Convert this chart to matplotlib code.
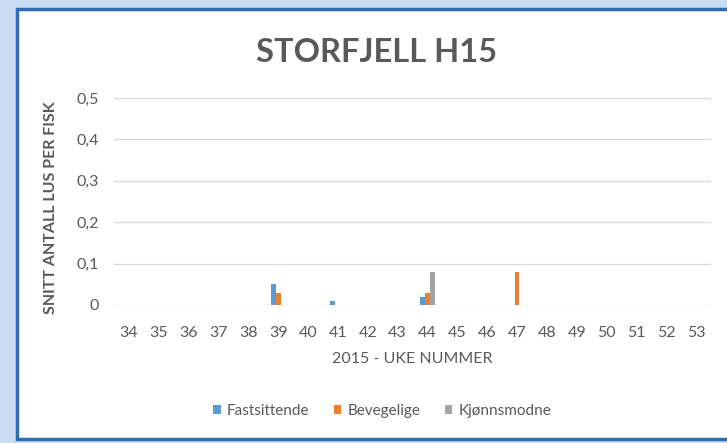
import matplotlib
matplotlib.use("Agg")
import matplotlib.pyplot as plt
import numpy as np
from matplotlib.patches import Rectangle

weeks = [str(w) for w in range(34, 54)]
fastsittende = [0, 0, 0, 0, 0, 0.05, 0, 0.01, 0, 0, 0.02, 0, 0, 0, 0, 0, 0, 0, 0, 0]
bevegelige = [0, 0, 0, 0, 0, 0.03, 0, 0, 0, 0, 0.03, 0, 0, 0.08, 0, 0, 0, 0, 0, 0]
kjonnsmodne = [0, 0, 0, 0, 0, 0, 0, 0, 0, 0, 0.08, 0, 0, 0, 0, 0, 0, 0, 0, 0]
yticks = [0, 0.1, 0.2, 0.3, 0.4, 0.5]
ytick_labels = ["0", "0,1", "0,2", "0,3", "0,4", "0,5"]

plt.rcParams['font.family'] = ['Lato', 'DejaVu Sans']
txt = '#595959'

fig = plt.figure(figsize=(7.27, 4.43), dpi=100)
fig.patch.set_facecolor('#c9dcf1')
W, H = 727, 443
fig.patches.append(Rectangle((17 / W, 1 - 439 / H), 1.0, (439 - 9) / H,
                             transform=fig.transFigure, facecolor='white',
                             edgecolor='#2e6db4', linewidth=2.5, zorder=0))

ax = fig.add_axes([114 / W, 1 - 305 / H, (711 - 114) / W, (305 - 98) / H])
ax.set_facecolor('none')
ax.set_zorder(2)

x = np.arange(len(weeks))
bw = 0.165
ax.bar(x - bw, fastsittende, bw, color='#5b9bd5', label='Fastsittende', zorder=3)
ax.bar(x, bevegelige, bw, color='#ed7d31', label='Bevegelige', zorder=3)
ax.bar(x + bw, kjonnsmodne, bw, color='#a5a5a5', label='Kjønnsmodne', zorder=3)

ax.set_xlim(-0.5, len(weeks) - 0.5)
ax.set_ylim(0, 0.5)
ax.set_xticks(x)
ax.set_xticklabels(weeks)
ax.set_yticks(yticks)
ax.set_yticklabels(ytick_labels)
ax.tick_params(length=0, labelsize=11.5, colors=txt)
ax.tick_params(axis='x', pad=15)
ax.tick_params(axis='y', pad=11)
ax.grid(axis='y', color='#d9d9d9', linewidth=1, zorder=0)
for s in ax.spines.values():
    s.set_visible(False)

ax.set_xlabel('2015 - UKE NUMMER', fontsize=11.5, color=txt, labelpad=9)
ax.set_ylabel('SNITT ANTALL LUS PER FISK', fontsize=11.5, color=txt,
              fontweight='bold')
ax.yaxis.set_label_coords((58 - 114) / (711 - 114), (305 - 208) / (305 - 98))

fig.text(376 / W, 1 - 52 / H, 'STORFJELL H15', fontsize=23.5, fontweight='bold',
         color=txt, ha='center', va='center', zorder=3)

leg = fig.legend(loc='center', bbox_to_anchor=(382 / W, 1 - 411 / H), ncol=3,
                 frameon=False, fontsize=11, labelcolor=txt, handlelength=0.5,
                 handleheight=0.5, handletextpad=0.4, columnspacing=1.6)
leg.set_zorder(3)

fig.savefig('out.png', dpi=100, facecolor=fig.get_facecolor())
